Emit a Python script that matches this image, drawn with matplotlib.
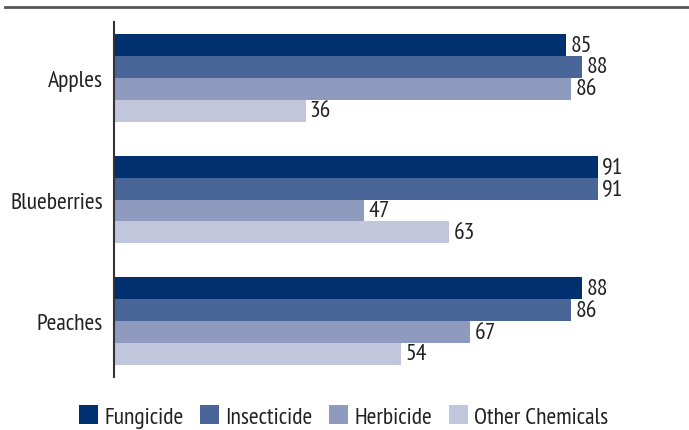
import matplotlib.pyplot as plt
from matplotlib.lines import Line2D
import numpy as np

crops = ['Apples', 'Blueberries', 'Peaches']
series = ['Fungicide', 'Insecticide', 'Herbicide', 'Other Chemicals']
fungicide = [85, 91, 88]
insecticide = [88, 91, 86]
herbicide = [86, 47, 67]
other = [36, 63, 54]
colors = ['#003070', '#4a6699', '#8e9bbf', '#c1c6dd']

plt.rcParams['font.family'] = ['PT Sans Narrow', 'DejaVu Sans']

fig = plt.figure(figsize=(6.89, 4.31), dpi=100)
ax = fig.add_axes([0.1655, 0.123, 0.8345, 0.8236])

y = np.arange(len(crops))
h = 0.18
values = [fungicide, insecticide, herbicide, other]
for i, (name, vals) in enumerate(zip(series, values)):
    pos = y - 1.5 * h + i * h
    ax.barh(pos, vals, height=h, color=colors[i], label=name)
    for p, v in zip(pos, vals):
        ax.text(v + 0.8, p, str(v), va='center', ha='left', fontsize=17, color='#222222')

ax.set_xlim(0, 108.1)
ax.set_ylim(2.459, -0.459)
ax.set_yticks(y)
ax.set_yticklabels(crops, fontsize=17, color='#222222')
ax.tick_params(axis='y', length=0, pad=8)
ax.set_xticks([])
for s in ['top', 'right', 'bottom']:
    ax.spines[s].set_visible(False)
ax.spines['left'].set_color('#333333')
ax.spines['left'].set_linewidth(1.5)

# rule across the top
fig.add_artist(Line2D([0.007, 1.0], [0.981, 0.981], color='#555555', linewidth=2))

fig.legend(loc='center', bbox_to_anchor=(0.4985, 0.031), ncol=4, frameon=False,
           fontsize=17, handlelength=0.82, handleheight=0.82, handletextpad=0.25,
           columnspacing=0.7, labelcolor='#222222')

fig.savefig('out.png', dpi=100)
